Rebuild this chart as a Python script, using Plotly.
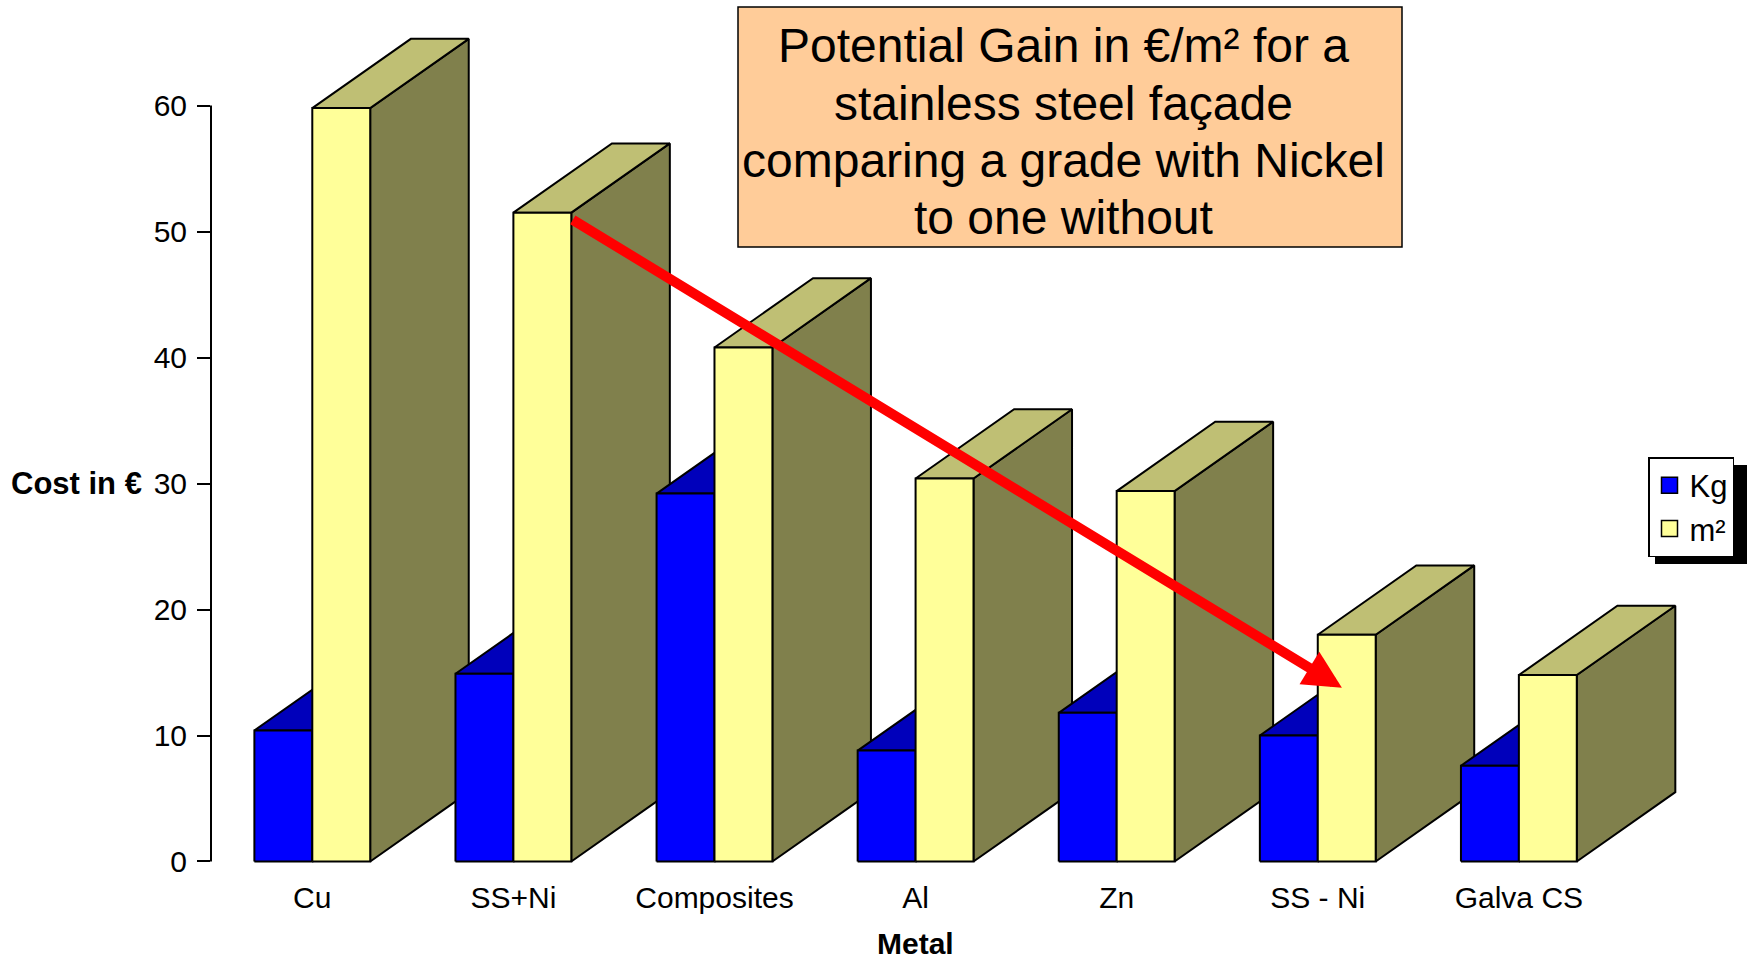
import plotly.graph_objects as go

# ---------------- data ----------------
categories = ["Cu", "SS+Ni", "Composites", "Al", "Zn", "SS - Ni", "Galva CS"]
kg_values = [10.4, 14.9, 29.2, 8.8, 11.8, 10.0, 7.6]
m2_values = [59.8, 51.5, 40.8, 30.4, 29.4, 18.0, 14.8]
series_names = ["Kg", "m²"]
y_ticks = [0, 10, 20, 30, 40, 50, 60]

title_lines = ["Potential Gain in €/m² for a",
               "stainless steel façade",
               "comparing a grade with Nickel",
               "to one without"]

# ---------------- style ----------------
BAR_W = 0.288      # width of one bar (category units)
DEPTH_X = 0.49     # 3D depth offset, x (category units)
DEPTH_Y = 5.5      # 3D depth offset, y (value units)
FONT = "Liberation Sans, Arial, sans-serif"

BLUE_FRONT = "#0000FF"
BLUE_TOP = "#0000BB"
YEL_FRONT = "#FFFF99"
YEL_TOP = "#BFBF74"
YEL_SIDE = "#80804C"
EDGE = dict(color="black", width=2)

# plot-area geometry in pixels (used to convert pixel spots to paper coords)
ML, MR, MT, MB = 211, 65, 30, 98
W, H = 1755, 962
PW, PH = W - ML - MR, H - MT - MB


def px(xpix):
    return (xpix - ML) / PW


def py(ypix):
    return (H - MB - ypix) / PH


fig = go.Figure()


def poly(xs, ys, fill):
    fig.add_trace(go.Scatter(
        x=xs + [xs[0]], y=ys + [ys[0]], mode="lines", fill="toself",
        fillcolor=fill, line=EDGE, hoverinfo="skip", showlegend=False))


for i, (k, m) in enumerate(zip(kg_values, m2_values)):
    xb0, xb1 = i - BAR_W, i          # blue bar
    xy0, xy1 = i, i + BAR_W          # yellow bar
    # blue top face
    poly([xb0, xb1, xb1 + DEPTH_X, xb0 + DEPTH_X],
         [k, k, k + DEPTH_Y, k + DEPTH_Y], BLUE_TOP)
    # yellow side face
    poly([xy1, xy1 + DEPTH_X, xy1 + DEPTH_X, xy1],
         [0, DEPTH_Y, m + DEPTH_Y, m], YEL_SIDE)
    # yellow top face
    poly([xy0, xy1, xy1 + DEPTH_X, xy0 + DEPTH_X],
         [m, m, m + DEPTH_Y, m + DEPTH_Y], YEL_TOP)
    # blue front
    poly([xb0, xb1, xb1, xb0], [0, 0, k, k], BLUE_FRONT)
    # yellow front
    poly([xy0, xy1, xy1, xy0], [0, 0, m, m], YEL_FRONT)

# legend entries
for name, col, grp in [(series_names[0], BLUE_FRONT, "kg"),
                       (series_names[1], YEL_FRONT, "m2")]:
    fig.add_trace(go.Scatter(
        x=[None], y=[None], mode="markers", name=name, legendgroup=grp,
        marker=dict(symbol="square", size=16, color=col,
                    line=dict(color="black", width=1.5))))

# arrow from SS+Ni m² bar top to SS - Ni m² bar
arrow_tail = (1 + BAR_W, m2_values[1] - 0.5)
arrow_tip = (5 + 0.12, 13.8)

annotations = [
    dict(x=arrow_tip[0], y=arrow_tip[1], ax=arrow_tail[0], ay=arrow_tail[1],
         xref="x", yref="y", axref="x", ayref="y", text="",
         showarrow=True, arrowhead=2, arrowsize=0.76, arrowwidth=10,
         arrowcolor="#FF0000"),
    dict(x=px(144), y=30, xref="paper", yref="y", xanchor="right",
         yanchor="middle", text="<b>Cost in €</b>", showarrow=False,
         font=dict(size=31, family=FONT, color="black")),
    dict(x=px(915), y=py(961), xref="paper", yref="paper",
         xanchor="center", yanchor="bottom", text="<b>Metal</b>",
         showarrow=False, borderpad=0,
         font=dict(size=30, family=FONT, color="black")),
]
line_centers = [45, 102, 159, 216]
for txt, yc in zip(title_lines, line_centers):
    annotations.append(dict(
        x=px(1063), y=py(yc + 1), xref="paper", yref="paper",
        xanchor="center", yanchor="middle", text=txt, showarrow=False,
        font=dict(size=48, family=FONT, color="black")))

fig.update_layout(
    width=W, height=H,
    margin=dict(l=ML, r=MR, t=MT, b=MB),
    paper_bgcolor="white", plot_bgcolor="white",
    font=dict(family=FONT, color="black"),
    showlegend=True,
    legend=dict(x=px(1648), y=py(457), xanchor="left", yanchor="top",
                bgcolor="white", bordercolor="black", borderwidth=1.5,
                font=dict(size=31, family=FONT), tracegroupgap=0),
    xaxis=dict(range=[-0.5037, 6.851], tickmode="array",
               tickvals=list(range(len(categories))), ticktext=categories,
               showgrid=False, zeroline=False, showline=False, ticks="",
               tickfont=dict(size=30, family=FONT), ticklabelstandoff=13),
    yaxis=dict(range=[-0.2, 66], tickmode="array", tickvals=y_ticks,
               showgrid=False, zeroline=False, showline=False,
               ticks="outside", ticklen=13, tickwidth=2, tickcolor="black",
               tickfont=dict(size=30, family=FONT), ticklabelstandoff=4),
    shapes=[
        dict(type="line", xref="paper", yref="y", x0=0, x1=0,
             y0=y_ticks[0], y1=y_ticks[-1],
             line=dict(color="black", width=2)),
        # title box
        dict(type="rect", xref="paper", yref="paper",
             x0=px(738), x1=px(1402), y0=py(247), y1=py(7),
             fillcolor="#FFCC99", line=dict(color="black", width=1.5),
             layer="above"),
        # legend shadow
        dict(type="rect", xref="paper", yref="paper",
             x0=px(1655), x1=px(1747), y0=py(564), y1=py(465),
             fillcolor="black", line=dict(width=0), layer="above"),
    ],
    annotations=annotations,
)

fig.write_html("out.html")
